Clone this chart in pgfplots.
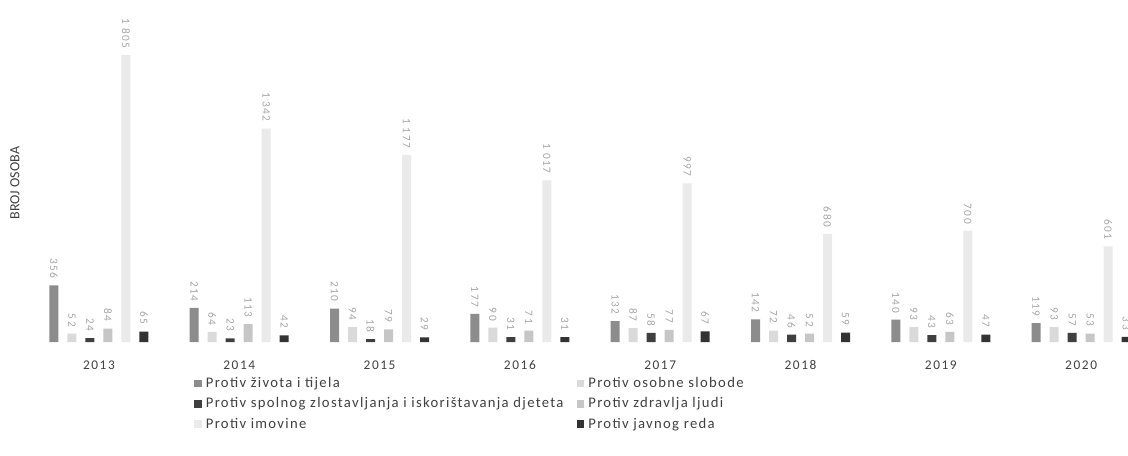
\documentclass[border=0pt]{standalone}
\usepackage{fontspec}
\setmainfont{Carlito}
\newfontfamily\spaced[LetterSpace=9]{Carlito}
\newfontfamily\spacedb[LetterSpace=12]{Carlito}
\usepackage{pgfplots}
\pgfplotsset{compat=1.18}
\definecolor{c1}{HTML}{8C8C8C}
\definecolor{c2}{HTML}{DADADA}
\definecolor{c3}{HTML}{3F3F3F}
\definecolor{c4}{HTML}{C6C6C6}
\definecolor{c5}{HTML}{EAEAEA}
\definecolor{c6}{HTML}{333333}
\definecolor{txt}{HTML}{404040}
\definecolor{lbl}{HTML}{A6A6A6}
\begin{document}
\begin{tikzpicture}
\useasboundingbox (0,0) rectangle (846pt,341.25pt);
\begin{axis}[
  at={(30pt,84.75pt)}, anchor=south west,
  width=816pt, height=238.5pt, scale only axis,
  ybar=6.75pt, bar width=6.75pt,
  xmin=-0.42, xmax=7.334, ymin=0, ymax=2000,
  xtick={0,1,2,3,4,5,6,7},
  xticklabels={2013,2014,2015,2016,2017,2018,2019,2020},
  xticklabel style={yshift=-6pt, font=\spacedb\fontsize{10}{12}\selectfont, text=txt},
  ytick=\empty,
  axis line style={draw=none},
  tick style={draw=none},
  ylabel={BROJ OSOBA},
  ylabel style={at={(axis description cs:-0.023,0.5)}, anchor=center, font=\fontsize{10.5}{12}\selectfont, text=txt},
  point meta=explicit symbolic,
  nodes near coords,
  every node near coord/.append style={rotate=-90, anchor=east, inner sep=5pt, font=\spacedb\fontsize{8.5}{9}\selectfont, text=lbl},
  legend columns=2,
  legend cell align=left,
  legend style={at={(axis description cs:0.138,-0.094)}, anchor=north west, draw=none, fill=none,
    font=\spaced\fontsize{11}{13}\selectfont, text=txt, row sep=2pt,
    /tikz/every odd column/.append style={column sep=1pt},
    /tikz/every even column/.append style={column sep=8pt}},
  legend image code/.code={\fill[#1] (0pt,-2.8pt) rectangle (5.6pt,2.8pt);},
]
\addplot[fill=c1, draw=none] coordinates {(0,356)[356] (1,214)[214] (2,210)[210] (3,177)[177] (4,132)[132] (5,142)[142] (6,140)[140] (7,119)[119]};
\addplot[fill=c2, draw=none] coordinates {(0,52)[52] (1,64)[64] (2,94)[94] (3,90)[90] (4,87)[87] (5,72)[72] (6,93)[93] (7,93)[93]};
\addplot[fill=c3, draw=none] coordinates {(0,24)[24] (1,23)[23] (2,18)[18] (3,31)[31] (4,58)[58] (5,46)[46] (6,43)[43] (7,57)[57]};
\addplot[fill=c4, draw=none] coordinates {(0,84)[84] (1,113)[113] (2,79)[79] (3,71)[71] (4,77)[77] (5,52)[52] (6,63)[63] (7,53)[53]};
\addplot[fill=c5, draw=none] coordinates {(0,1805)[1 805] (1,1342)[1 342] (2,1177)[1 177] (3,1017)[1 017] (4,997)[997] (5,680)[680] (6,700)[700] (7,601)[601]};
\addplot[fill=c6, draw=none] coordinates {(0,65)[65] (1,42)[42] (2,29)[29] (3,31)[31] (4,67)[67] (5,59)[59] (6,47)[47] (7,33)[33]};
\legend{Protiv života i tijela, Protiv osobne slobode, Protiv spolnog zlostavljanja i iskorištavanja djeteta, Protiv zdravlja ljudi, Protiv imovine, Protiv javnog reda}
\end{axis}
\end{tikzpicture}
\end{document}
